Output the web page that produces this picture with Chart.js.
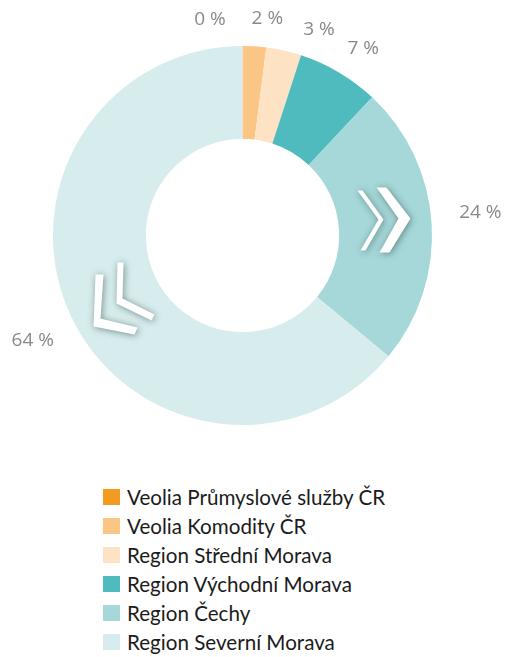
<!DOCTYPE html>
<html>
<head>
<meta charset="utf-8">
<script src="https://cdn.jsdelivr.net/npm/chart.js@4"></script>
<style>
  body { margin: 0; background: #fff; font-family: Lato, sans-serif; }
  #wrap { position: relative; width: 509px; height: 657px; }
  #box { position: absolute; left: 0; top: 0; width: 509px; height: 470px; }
  #legend { position: absolute; left: 103px; top: 482px; margin: 0; padding: 0; list-style: none; }
  #legend li { height: 29.1px; display: flex; align-items: center; font-size: 20.6px; color: #1b1b1b; white-space: nowrap; }
  #legend span.sw { display: inline-block; width: 17px; height: 16px; margin-right: 7px; }
</style>
</head>
<body>
<div id="wrap">
  <div id="box"><canvas id="podilChart"></canvas></div>
  <ul id="legend"></ul>
</div>
<script>
// === DATA ===
const categories = [
  "Veolia Průmyslové služby ČR",
  "Veolia Komodity ČR",
  "Region Střední Morava",
  "Region Východní Morava",
  "Region Čechy",
  "Region Severní Morava"
];
const shares = [0, 2, 3, 7, 24, 64];
const shareLabels = ["0 %", "2 %", "3 %", "7 %", "24 %", "64 %"];
const colors = ["#F39B21", "#FBC586", "#FDE2C3", "#50BBBE", "#A6D8D9", "#D7ECED"];
// posun popisku (ve stupnich), aby se male vysece neprekryvaly
const labelNudge = [-8, 2.5, 6.5, 0.5, -2.5, -3.5];

// === POPISKY PROCENT + SIPKY ===
const extras = {
  id: "extras",
  afterDraw(chart) {
    const ctx = chart.ctx;
    const arcs = chart.getDatasetMeta(0).data;
    const cx = arcs[0].x, cy = arcs[0].y, R = arcs[0].outerRadius;
    const s = R / 189.5;

    // sipky (dekorace)
    const shapes = [
      [[358,191],[363,191],[384,220],[366,251],[361,251],[379,220]],
      [[377,188],[387,188],[411,219],[390,253],[380,253],[399,219]],
      [[118,263],[124,263],[123,299],[155,315],[152,321],[117,304]],
      [[96,275],[104,275],[101,319],[138,328],[135,335],[94,327]]
    ];
    ctx.save();
    ctx.fillStyle = "#ffffff";
    ctx.shadowColor = "rgba(40,60,60,0.55)";
    ctx.shadowBlur = 7;
    ctx.shadowOffsetX = 1;
    ctx.shadowOffsetY = 1;
    shapes.forEach(pts => {
      ctx.beginPath();
      pts.forEach((p, i) => {
        const x = cx + (p[0] - 243) * s, y = cy + (p[1] - 236) * s;
        if (i === 0) ctx.moveTo(x, y); else ctx.lineTo(x, y);
      });
      ctx.closePath();
      ctx.fill();
    });
    ctx.restore();

    ctx.save();
    ctx.font = "19px 'Open Sans'";
    ctx.fillStyle = "#898989";
    ctx.textAlign = "center";
    ctx.textBaseline = "middle";
    arcs.forEach((a, i) => {
      const mid = (a.startAngle + a.endAngle) / 2 + labelNudge[i] * Math.PI / 180;
      const r = R + 28.5;
      const w = ctx.measureText(shareLabels[i]).width;
      const x = cx + r * Math.cos(mid) + (w / 2) * Math.cos(mid);
      const y = cy + r * Math.sin(mid);
      ctx.fillText(shareLabels[i], x, y);
    });
    ctx.restore();
  }
};

new Chart(document.getElementById("podilChart"), {
  type: "doughnut",
  data: {
    labels: categories,
    datasets: [{
      data: shares,
      backgroundColor: colors,
      borderWidth: 0,
      hoverOffset: 0
    }]
  },
  options: {
    responsive: true,
    maintainAspectRatio: false,
    animation: false,
    cutout: "51%",
    layout: { padding: { left: 53, right: 77, top: 46, bottom: 45 } },
    plugins: {
      legend: { display: false },
      tooltip: { enabled: false }
    }
  },
  plugins: [extras]
});

// === LEGENDA ===
const legend = document.getElementById("legend");
categories.forEach((name, i) => {
  const li = document.createElement("li");
  const sw = document.createElement("span");
  sw.className = "sw";
  sw.style.background = colors[i];
  li.appendChild(sw);
  li.appendChild(document.createTextNode(name));
  legend.appendChild(li);
});
</script>
</body>
</html>
